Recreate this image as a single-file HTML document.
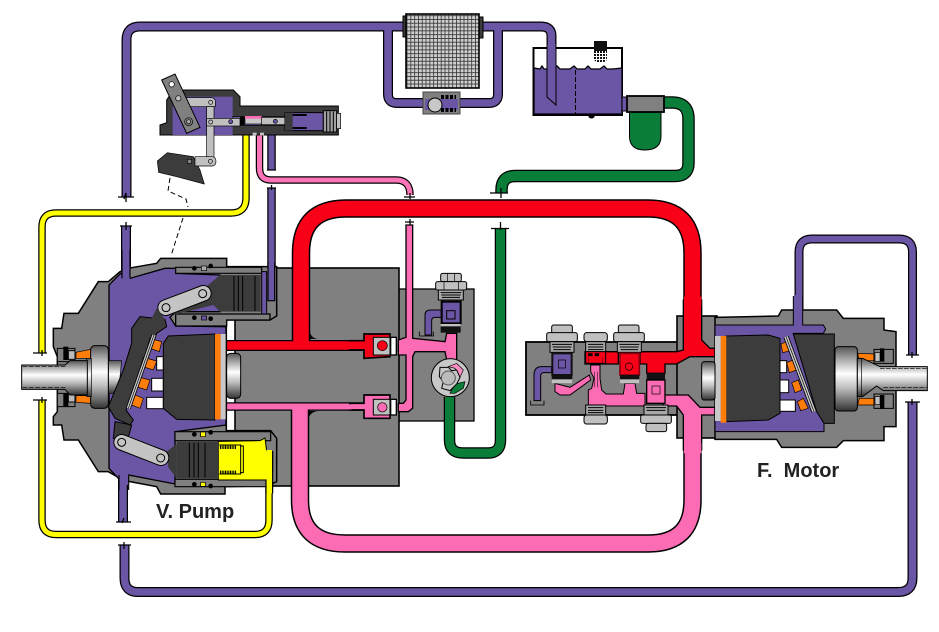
<!DOCTYPE html>
<html>
<head>
<meta charset="utf-8">
<style>
html,body{margin:0;padding:0;background:#fff;width:939px;height:632px;overflow:hidden}
svg{display:block}
text{font-family:"Liberation Sans",sans-serif;font-weight:bold;font-size:20px;fill:#222}
</style>
</head>
<body>
<svg width="939" height="632" viewBox="0 0 939 632" xmlns="http://www.w3.org/2000/svg">
<defs>
<linearGradient id="sh" x1="0" y1="0" x2="0" y2="1">
<stop offset="0" stop-color="#555"/><stop offset=".2" stop-color="#aaa"/><stop offset=".42" stop-color="#fff"/><stop offset=".65" stop-color="#bbb"/><stop offset="1" stop-color="#333"/>
</linearGradient>
<pattern id="mesh" width="3.800" height="3.800" patternUnits="userSpaceOnUse"><rect width="3.800" height="3.800" fill="#cfcfcf"/><path d="M0 .4H3.800M.4 0V3.800" stroke="#333" stroke-width=".8"/></pattern>
<pattern id="mesh2" width="3" height="3" patternUnits="userSpaceOnUse"><rect width="3" height="3" fill="#fff"/><rect width="2" height="2" fill="#111"/></pattern>
</defs>
<rect width="939" height="632" fill="#fff"/>

<!-- manifold plates & main block -->
<rect x="398" y="289" width="76" height="132" fill="#808080" stroke="#000" stroke-width="1.300"/>
<rect x="235" y="268" width="164" height="218" fill="#808080" stroke="#000" stroke-width="1.600"/>
<rect x="526" y="342" width="152" height="73" fill="#808080" stroke="#000" stroke-width="1.800"/>
<rect x="677" y="316" width="40" height="122" fill="#808080" stroke="#000" stroke-width="1.600"/>

<!-- pipes outline -->
<g fill="none" stroke="#000" stroke-linejoin="round">
<path stroke-width="10" d="M126.500 197V40Q126.500 26.500 140 26.500H410M388 26.500V94Q388 103 397 103H425M460 103H489Q498 103 498 94V26.500H410M480 26.500H541Q551.500 26.500 551.500 36V60"/>
<path stroke-width="10" d="M126 226V285"/>
<path stroke-width="10" d="M123 470V522"/>
<path stroke-width="10" d="M124.500 545V578Q124.500 592 138 592H898Q912.500 592 912.500 578V402"/>
<path stroke-width="9" d="M799 322V252Q799 239 812 239H899Q912.500 239 912.500 252V355"/>
<path stroke-width="8.500" d="M271.500 130V170M271.500 188V300"/>
<path stroke-width="7.500" d="M246 125V198Q246 213 231 213H56Q42 213 42 227V353"/>
<path stroke-width="7.500" d="M42 400V520Q42 534.500 56 534.500H255Q269 534.500 269 520V440"/>
<path stroke-width="7.500" d="M259.500 125V168Q259.500 180 271 180H396Q410 180 410 195"/>
<path stroke-width="12.500" d="M664 102.500H672Q688.500 102.500 688.500 119V163Q688.500 176 675 176H515Q501.500 176 501.500 190V193"/>
<path stroke-width="11.500" d="M500.500 228V440Q500.500 453 488 453H463Q449.500 453 449.500 440V397"/>
<path stroke-width="18.500" d="M301 340V253Q301 208.500 346 208.500H648Q692.500 208.500 692.500 253V310"/>
<path stroke-width="11" d="M226 345.500H365"/>
<path stroke-width="18.500" d="M300 410V500Q300 543.500 345 543.500H648Q692.500 543.500 692.500 500V445"/>
<path stroke-width="8.500" d="M226 406.500H365"/>
</g>
<!-- pipes fill -->
<g fill="none" stroke-linejoin="round">
<g stroke="#6b55a5">
<path stroke-width="7.500" d="M126.500 197V40Q126.500 26.500 140 26.500H410M388 26.500V94Q388 103 397 103H425M460 103H489Q498 103 498 94V26.500H410M480 26.500H541Q551.500 26.500 551.500 36V60"/>
<path stroke-width="7.500" d="M126 226V285"/>
<path stroke-width="7.500" d="M123 470V522"/>
<path stroke-width="7.500" d="M124.500 545V578Q124.500 592 138 592H898Q912.500 592 912.500 578V402"/>
<path stroke-width="6.500" d="M799 322V252Q799 239 812 239H899Q912.500 239 912.500 252V355"/>
<path stroke-width="6" d="M271.500 130V170M271.500 188V300"/>
</g>
<g stroke="#ffff00">
<path stroke-width="5" d="M246 125V198Q246 213 231 213H56Q42 213 42 227V353"/>
<path stroke-width="5" d="M42 400V520Q42 534.500 56 534.500H255Q269 534.500 269 520V440"/>
</g>
<path stroke="#fb74b8" stroke-width="5" d="M259.500 125V168Q259.500 180 271 180H396Q410 180 410 195"/>
<g stroke="#0a7d38">
<path stroke-width="10" d="M664 102.500H672Q688.500 102.500 688.500 119V163Q688.500 176 675 176H515Q501.500 176 501.500 190V193"/>
<path stroke-width="9" d="M500.500 228V440Q500.500 453 488 453H463Q449.500 453 449.500 440V397"/>
</g>
<g stroke="#f70018">
<path stroke-width="15.500" d="M301 345V253Q301 208.500 346 208.500H648Q692.500 208.500 692.500 253V310"/>
<path stroke-width="8.500" d="M226 345.500H365"/>
</g>
<g stroke="#fb6cb4">
<path stroke-width="15.500" d="M300 405V500Q300 543.500 345 543.500H648Q692.500 543.500 692.500 500V445"/>
<path stroke-width="6" d="M226 406.500H365"/>
</g>
</g>
<!-- fillets at pipe junctions -->
<path d="M309 328Q310 339 319 339H309ZM308 421Q309 412 318 411H308Z" fill="#000"/>

<!-- break marks -->
<g stroke="#000" stroke-width="1.300" fill="none">
<path d="M118 197H134M126 193L124 199M126 193V202"/>
<path d="M120 226H132M126 222V230"/>
<path d="M116 522H131M124 518L122 523"/>
<path d="M118 545H131M124 542V549"/>
<path d="M267 170H276M267 188H276M271.500 185V190"/>
<path d="M404 197H415M410 193V199M405 222H414M410 219V225"/>
<path d="M33 353H47M42 350V356M33 400H47M42 397V403"/>
<path d="M490 193H508M501 188V198"/>
<path d="M491 228.500H509M500.500 222V230"/>
<path d="M906 355H919M912 352V358M905 402H920M912 399V405"/>
</g>

<!-- dashed link -->
<path d="M170 178L168 191L186 199L188 207M183 218L176 240L171 256" fill="none" stroke="#000" stroke-width="1" stroke-dasharray="5 3"/>

<!-- PUMP (zoom coordinates) -->
<g transform="translate(0,230) scale(.33333)">
<path d="M160 295H185L192 250H235L295 155H325L360 125L395 113L470 100L482 85H680V110H830V258L810 270H679V602H812L830 625V755L800 768L675 770V792H482L470 770L390 755L360 745L325 725H295L235 630H192L185 585H160V560L172 545V380L160 350Z" fill="#808080" stroke="#000" stroke-width="4.500"/>
<path d="M327 165L362 130L390 145L495 115L527 115V130L660 135V245L527 245L510 262L527 288L678 290V585L525 605V762L385 735L355 745L327 715Z" fill="#6b55a5" stroke="#000" stroke-width="4"/>
<!-- top servo -->
<path d="M527 252H810V270H680V288H527Z" fill="#808080" stroke="#000" stroke-width="4"/>
<path d="M527 112H785V130H527Z" fill="#808080" stroke="#000" stroke-width="3.500"/>
<circle cx="583" cy="115" r="7" fill="#000"/><rect x="604" y="108" width="16" height="14" fill="#aaa" stroke="#000" stroke-width="2"/><circle cx="632" cy="108" r="7" fill="#000"/>
<circle cx="583" cy="263" r="7" fill="#000"/><rect x="604" y="258" width="16" height="12" fill="#6b55a5" stroke="#000" stroke-width="2"/><circle cx="632" cy="266" r="7" fill="#000"/>
<path d="M660 135H782V245H660Z" fill="#3c3c3c"/>
<path d="M660 135L625 165L520 255L640 225L660 245Z" fill="#3c3c3c"/>
<path d="M702 138V243M715 138V243M728 138V243M765 138V243" stroke="#000" stroke-width="3"/>
<path d="M785 125H800V252H785Z" fill="#6b55a5" stroke="#000" stroke-width="3"/>
<path d="M497 233L610 190" stroke="#000" stroke-width="50" stroke-linecap="round"/>
<path d="M497 233L610 190" stroke="#c4c4c4" stroke-width="44" stroke-linecap="round"/>
<circle cx="498" cy="233" r="12" fill="#c4c4c4" stroke="#000" stroke-width="3"/><circle cx="608" cy="191" r="12" fill="#c4c4c4" stroke="#000" stroke-width="3"/>
<!-- bottom servo -->
<path d="M525 605H812V632H525Z" fill="#808080" stroke="#000" stroke-width="3.500"/>
<path d="M525 748H800V770H525Z" fill="#808080" stroke="#000" stroke-width="3.500"/>
<circle cx="583" cy="613" r="7" fill="#000"/><rect x="602" y="606" width="14" height="14" fill="#ffff00" stroke="#000" stroke-width="2"/><circle cx="632" cy="607" r="7" fill="#000"/>
<circle cx="583" cy="763" r="7" fill="#000"/><rect x="602" y="757" width="14" height="12" fill="#ffff00" stroke="#000" stroke-width="2"/><circle cx="632" cy="768" r="7" fill="#000"/>
<path d="M655 634L780 632L795 624L800 664H818V720L800 750H655Z" fill="#ffff00" stroke="#000" stroke-width="3"/>
<path d="M658 645H722V732H658M720 648H730V728H720" fill="none" stroke="#000" stroke-width="3"/>
<path d="M660 652h8m2 0h8m2 0h8m2 0h8m2 0h8M660 727h8m2 0h8m2 0h8m2 0h8m2 0h8" stroke="#000" stroke-width="10" stroke-dasharray="3 2" fill="none"/>
<path d="M530 635H655V745H530Z" fill="#3c3c3c"/>
<path d="M530 642L500 665L505 712L530 745Z" fill="#3c3c3c"/>
<path d="M568 638V743M582 638V743M595 638V743M615 638V743" stroke="#000" stroke-width="3"/>
<path d="M345 575L395 585L380 640L340 625Z" fill="#3c3c3c" stroke="#000" stroke-width="3"/>
<path d="M365 637L483 683" stroke="#000" stroke-width="50" stroke-linecap="round"/>
<path d="M365 637L483 683" stroke="#c4c4c4" stroke-width="44" stroke-linecap="round"/>
<circle cx="365" cy="637" r="12" fill="#c4c4c4" stroke="#000" stroke-width="3"/><circle cx="482" cy="684" r="12" fill="#c4c4c4" stroke="#000" stroke-width="3"/>
<!-- shaft -->
<path d="M172 355H225V395H172ZM172 490H225V530H172Z" fill="#808080" stroke="#000" stroke-width="3"/>
<rect x="190" y="350" width="15" height="40" fill="#000"/><rect x="190" y="490" width="15" height="40" fill="#000"/>
<rect x="205" y="362" width="20" height="26" fill="#bbb" stroke="#000" stroke-width="3"/><rect x="205" y="492" width="20" height="24" fill="#bbb" stroke="#000" stroke-width="3"/>
<path d="M228 367L272 358V385L228 385ZM228 497H272V520L228 517Z" fill="#ff7d0a" stroke="#000" stroke-width="2"/>
<path d="M325 392H365L355 490H325Z" fill="url(#sh)" stroke="#000" stroke-width="2"/>
<rect x="272" y="347" width="53" height="188" rx="12" fill="url(#sh)" stroke="#000" stroke-width="3"/>
<rect x="260" y="385" width="14" height="115" fill="url(#sh)" stroke="#000" stroke-width="2"/>
<path d="M65 405H195L210 392H262V495H210L195 478H65Z" fill="url(#sh)" stroke="#000" stroke-width="3"/>
<path d="M68 410H200M68 472H200" stroke="#000" stroke-width="2" stroke-dasharray="14 5"/>
<!-- swash -->
<path d="M395 295L420 260L495 268L500 290L470 310L378 540L400 570L390 585L345 565L325 530L370 420L395 340Z" fill="#3c3c3c" stroke="#000" stroke-width="3"/>
<path d="M470 235L495 268L470 300L455 265Z" fill="#3c3c3c"/>
<!-- pistons -->
<rect x="470" y="380" width="20" height="40" fill="#fff" stroke="#000" stroke-width="3"/>
<rect x="455" y="445" width="35" height="38" fill="#fff" stroke="#000" stroke-width="3"/>
<rect x="440" y="502" width="50" height="34" fill="#fff" stroke="#000" stroke-width="3"/>
<path d="M450 325L485 335L478 365L442 352ZM430 382L470 393L460 420L422 408ZM412 440L450 450L440 480L402 468ZM398 492L430 505L420 535L388 522Z" fill="#ff7d0a" stroke="#000" stroke-width="2"/>
<path d="M462 315L385 535" stroke="#000" stroke-width="15"/>
<path d="M462 315L385 535" stroke="#c8c8c8" stroke-width="10"/>
<path d="M462 315L385 535" stroke="#000" stroke-width="2"/>
<!-- cylinder -->
<path d="M505 318L645 312V570L530 568L490 535V340Z" fill="#3c3c3c" stroke="#000" stroke-width="3"/>
<rect x="645" y="312" width="17" height="256" fill="#ff7d0a"/>
<rect x="662" y="312" width="15" height="256" fill="#c8c8c8"/>
<rect x="680" y="370" width="42" height="135" rx="12" fill="url(#sh)" stroke="#000" stroke-width="3"/>
<!-- pipes merging into housing -->
<rect x="367" y="90" width="22" height="60" fill="#6b55a5"/>
<path d="M366 60V145M390 60V143" stroke="#000" stroke-width="3.500"/>
<rect x="358" y="725" width="26" height="40" fill="#6b55a5"/>
<path d="M357 735V780M386 738V780" stroke="#000" stroke-width="3.500"/>
<path d="M804 100V212H824V100Z" fill="#6b55a5" stroke="#000" stroke-width="3.500"/>
<rect x="806" y="90" width="16" height="20" fill="#6b55a5"/>
<rect x="799" y="660" width="17" height="130" fill="#ffff00"/>
<path d="M798 748V790M818 664V790" stroke="#000" stroke-width="3.500"/>
</g>

<!-- CONTROL -->
<g transform="translate(110,0) scale(.33333)">
<path d="M150 405V375L170 368V300L190 270H370L390 290V318H685V405Z" fill="#3c3c3c" stroke="#000" stroke-width="3"/>
<rect x="188" y="290" width="180" height="115" fill="#6b55a5"/>
<rect x="368" y="350" width="155" height="26" fill="#6b55a5" stroke="#000" stroke-width="2"/>
<rect x="405" y="350" width="52" height="22" fill="#c8c8c8" stroke="#000" stroke-width="2"/>
<rect x="405" y="348" width="50" height="8" fill="#fb6cb4"/>
<rect x="390" y="350" width="14" height="26" fill="#000"/>
<rect x="455" y="352" width="70" height="22" fill="#c0c0c0" stroke="#000" stroke-width="2"/>
<circle cx="496" cy="364" r="6" fill="#6b55a5" stroke="#000" stroke-width="2"/>
<path d="M428 398h12v8h-12zM450 398h12v8h-12z" fill="#c0c0c0"/>
<path d="M525 338H640V392H525Z" fill="#6b55a5" stroke="#000" stroke-width="3"/>
<path d="M525 338H548V392H525Z" fill="#3c3c3c"/>
<path d="M548 345H590M548 384H590" stroke="#000" stroke-width="6"/>
<rect x="640" y="332" width="40" height="64" fill="#a0a0a0" stroke="#000" stroke-width="3"/>
<path d="M650 334V394M660 334V394M670 334V394" stroke="#000" stroke-width="3"/>
<rect x="680" y="340" width="12" height="46" fill="#c0c0c0" stroke="#000" stroke-width="2"/>
<path d="M230 293H303Q316 293 316 306V320H230Z" fill="#c0c0c0" stroke="#000" stroke-width="2"/>
<rect x="290" y="320" width="22" height="160" fill="#c0c0c0" stroke="#000" stroke-width="2"/>
<rect x="290" y="355" width="100" height="23" fill="#c0c0c0" stroke="#000" stroke-width="2"/>
<circle cx="302" cy="307" r="6" fill="#c0c0c0" stroke="#000" stroke-width="2"/>
<circle cx="302" cy="366" r="6" fill="#c0c0c0" stroke="#000" stroke-width="2"/>
<circle cx="362" cy="365" r="6" fill="#6b55a5" stroke="#000" stroke-width="2"/>
<path d="M155 240L195 222L270 382L230 400Z" fill="#808080" stroke="#000" stroke-width="3"/>
<circle cx="185" cy="253" r="8" fill="#fff" stroke="#000" stroke-width="2"/>
<circle cx="205" cy="295" r="8" fill="#c0c0c0" stroke="#000" stroke-width="2"/>
<circle cx="236" cy="365" r="12" fill="#808080" stroke="#000" stroke-width="2"/><circle cx="236" cy="365" r="6" fill="#aaa" stroke="#000" stroke-width="2"/>
<path d="M142 483L172 458L250 470L270 510L283 552L200 530L146 517Z" fill="#3c3c3c" stroke="#000" stroke-width="2"/>
<path d="M255 470H305Q318 470 318 484Q318 498 305 498H255Z" fill="#c0c0c0" stroke="#000" stroke-width="2"/>
<circle cx="301" cy="484" r="6" fill="#c0c0c0" stroke="#000" stroke-width="2"/>
<rect x="232" y="478" width="13" height="13" fill="#808080" stroke="#000" stroke-width="2"/>
</g>

<!-- FILTER, VALVE, TANK -->
<rect x="403" y="16" width="4" height="21" fill="#3c3c3c" stroke="#000"/>
<rect x="478" y="17" width="5" height="21" fill="#3c3c3c" stroke="#000"/>
<rect x="406" y="14" width="73" height="74" fill="url(#mesh)" stroke="#000" stroke-width="1.600"/>
<rect x="423" y="92" width="37" height="22" fill="#808080" stroke="#444"/>
<rect x="425" y="99" width="33" height="11" fill="#6b55a5"/>
<path d="M441 97h15M441 110h15" stroke="#000" stroke-width="4" stroke-dasharray="3 1.500"/>
<circle cx="435" cy="105" r="7" fill="#c8c8c8" stroke="#000"/>
<rect x="533.500" y="48" width="88.500" height="67" fill="#fff" stroke="#000" stroke-width="2"/>
<path d="M534 68L540 69L542 66L544 69L552 69L557 66L560 69L570 69L574 66L577 69L585 69L588 66L591 69L600 69L604 66L607 69L613 69L622 68V114H534Z" fill="#6b55a5" stroke="#000" stroke-width="1.300"/>
<path d="M575.500 70V114" stroke="#000" stroke-dasharray="5 2" stroke-width="1"/>
<path d="M547 46V97L556 105V46" fill="#6b55a5" stroke="#000" stroke-width="1"/>
<rect x="547.500" y="44" width="8" height="6" fill="#6b55a5"/>
<rect x="594" y="41" width="13" height="10" fill="#111"/>
<path d="M594 51H607V58Q607 62 603 62H598Q594 62 594 58Z" fill="url(#mesh2)"/>
<ellipse cx="591.500" cy="116.500" rx="3" ry="2" fill="#000"/>
<rect x="622" y="97" width="6" height="14" fill="#6b55a5" stroke="#000"/>
<path d="M629.500 112V136Q629.500 150 645 150Q661 150 661 136V112Z" fill="#0a7d38" stroke="#000" stroke-width="1"/>
<rect x="627" y="96" width="37" height="16" fill="#808080" stroke="#000" stroke-width="1.800"/>

<!-- PUMP MANIFOLD -->
<g transform="translate(300,260) scale(.33333)">
<path d="M318 -105H338V235L435 245L440 220H470V300H440L435 275H345L338 290V445L325 455H295V430H310L318 420V285H295V240L318 232Z" fill="#fb6cb4" stroke="#000" stroke-width="4"/>
<path d="M150 242H192V222H270V290L192 295V270H150Z" fill="#f70018" stroke="#000" stroke-width="5"/>
<rect x="142" y="245" width="14" height="22" fill="#f70018"/>
<rect x="220" y="232" width="50" height="53" fill="#c0c0c0" stroke="#000" stroke-width="3"/>
<circle cx="247" cy="257" r="15" fill="#f70018" stroke="#000" stroke-width="2"/>
<rect x="272" y="232" width="17" height="53" fill="#fff" stroke="#000" stroke-width="4"/>
<path d="M150 430H192V405H270V475H192V450H150Z" fill="#fb6cb4" stroke="#000" stroke-width="5"/>
<rect x="142" y="433" width="14" height="15" fill="#fb6cb4"/>
<rect x="220" y="418" width="50" height="47" fill="#c0c0c0" stroke="#000" stroke-width="3"/>
<circle cx="247" cy="442" r="14" fill="#fb6cb4" stroke="#000" stroke-width="2"/>
<rect x="272" y="418" width="17" height="47" fill="#fff" stroke="#000" stroke-width="4"/>
<rect x="422" y="40" width="62" height="25" rx="6" fill="#c0c0c0" stroke="#000" stroke-width="3"/>
<path d="M442 40V65M464 40V65" stroke="#000" stroke-width="2"/>
<rect x="407" y="65" width="93" height="25" rx="6" fill="#c0c0c0" stroke="#000" stroke-width="3"/>
<path d="M432 65V90M476 65V90" stroke="#000" stroke-width="2"/>
<rect x="415" y="90" width="75" height="30" fill="#a8a8a8" stroke="#000" stroke-width="3"/>
<path d="M422 98H484M424 105H482M426 112H480" stroke="#000" stroke-width="3"/>
<path d="M375 225V165Q375 150 392 150H430V172H405Q395 172 395 182V225Z" fill="#6b55a5" stroke="#000" stroke-width="3"/>
<path d="M358 215V228H400V215" fill="none" stroke="#000" stroke-width="2.500"/>
<rect x="425" y="125" width="57" height="65" fill="#6b55a5" stroke="#000" stroke-width="6"/>
<rect x="440" y="152" width="25" height="25" fill="#6b55a5" stroke="#000" stroke-width="3"/>
<rect x="422" y="192" width="60" height="26" fill="#111"/>
<rect x="422" y="192" width="60" height="7" fill="#c0c0c0"/>
<circle cx="451" cy="353" r="57" fill="#c8c8c8" stroke="#000" stroke-width="3"/>
<path d="M445 320L470 310L490 330L480 352L465 325Z" fill="#fb8cc4" stroke="#000" stroke-width="2"/>
<path d="M450 400L465 372L495 365L490 385L465 400Z" fill="#0a7d38" stroke="#000" stroke-width="2"/>
<path d="M420 322L445 322L455 332L470 330L480 352L470 372L450 392L425 385L430 365L418 350Z" fill="#c8c8c8" stroke="#000" stroke-width="3"/>
<circle cx="445" cy="354" r="21" fill="#bbb" stroke="#555" stroke-width="3"/>
</g>

<!-- MOTOR MANIFOLD -->
<g transform="translate(520,300) scale(.33333)">
<path d="M195 155H470L490 150V0H545V120L570 145H585V170H510L470 192H435V220H380V192H360V160H295V192H195Z" fill="#f70018" stroke="#000" stroke-width="4"/>
<rect x="492" y="-10" width="52" height="30" fill="#f70018"/>
<path d="M105 250L150 262L208 225L212 240L150 285H120L105 275Z" fill="#fb6cb4" stroke="#000" stroke-width="3"/>
<path d="M212 195H240V235L245 270L258 282H310L315 250H345L350 280H375V318H205V270L215 265L222 235L212 215Z" fill="#fb6cb4" stroke="#000" stroke-width="3"/>
<path d="M430 285H505L540 322H585V345H545V450H490V345L470 318H430Z" fill="#fb6cb4" stroke="#000" stroke-width="4"/>
<rect x="492" y="430" width="52" height="30" fill="#fb6cb4"/>
<g fill="#c0c0c0" stroke="#000" stroke-width="3">
<rect x="95" y="75" width="62" height="25" rx="6"/><rect x="80" y="98" width="92" height="27" rx="6"/>
<rect x="192" y="98" width="70" height="27" rx="8"/>
<rect x="295" y="75" width="62" height="25" rx="6"/><rect x="281" y="98" width="92" height="27" rx="6"/>
<rect x="192" y="345" width="70" height="27" rx="8"/>
<rect x="362" y="345" width="92" height="25" rx="6"/><rect x="378" y="370" width="62" height="25" rx="6"/>
</g>
<g fill="#a8a8a8" stroke="#000" stroke-width="3">
<rect x="90" y="125" width="72" height="32"/><rect x="197" y="125" width="60" height="30"/><rect x="292" y="125" width="72" height="32"/>
<rect x="197" y="315" width="60" height="30"/><rect x="372" y="315" width="72" height="30"/>
</g>
<path d="M96 133H156M98 141H154M100 149H152M204 133H250M204 141H250M204 149H250M298 133H358M300 141H356M302 149H354M204 323H250M204 331H250M204 338H250M378 323H438M380 331H436" stroke="#000" stroke-width="3"/>
<rect x="97" y="160" width="58" height="65" fill="#6b55a5" stroke="#111" stroke-width="6"/>
<rect x="115" y="180" width="22" height="24" fill="#6b55a5" stroke="#000" stroke-width="2"/>
<rect x="95" y="225" width="62" height="25" fill="#111"/><rect x="95" y="238" width="62" height="12" fill="#c0c0c0"/>
<path d="M42 302V225Q42 200 65 200H95V218H72Q62 218 62 228V302Z" fill="#6b55a5" stroke="#000" stroke-width="3"/>
<path d="M32 302V315H72V302" fill="none" stroke="#000" stroke-width="2.500"/>
<rect x="197" y="155" width="60" height="35" fill="#f70018" stroke="#000" stroke-width="3"/>
<path d="M205 160h12v8h-12zM225 160h12v8h-12zM205 172V188M248 172V188" fill="#000" stroke="#000" stroke-width="1"/>
<rect x="300" y="160" width="58" height="65" fill="#f70018" stroke="#8a0010" stroke-width="5"/>
<circle cx="327" cy="200" r="11" fill="#f70018" stroke="#000" stroke-width="2"/>
<rect x="300" y="225" width="58" height="25" fill="#111"/><rect x="300" y="238" width="58" height="12" fill="#c0c0c0"/>
<rect x="380" y="218" width="55" height="22" fill="#111"/>
<rect x="380" y="240" width="55" height="70" fill="#fb6cb4" stroke="#000" stroke-width="4"/>
<rect x="396" y="258" width="24" height="24" fill="#fb6cb4" stroke="#000" stroke-width="2"/>
<path d="M224 215V262M232 215V262" stroke="#000" stroke-width="1.500"/>
</g>

<!-- MOTOR -->
<g transform="translate(680,230) scale(.33333)">
<path d="M105 262L295 258L305 240H470L490 265H612V300L648 305V590H612V632H490L470 652H305L290 628H105Z" fill="#808080" stroke="#000" stroke-width="4.500"/>
<path d="M105 285H340V200H368V285H430L437 297L430 310H340L410 545L432 555V605H105Z" fill="#6b55a5" stroke="#000" stroke-width="3"/>
<rect x="342" y="195" width="24" height="92" fill="#6b55a5"/>
<path d="M340 312H463V580H432L410 545Z" fill="#3c3c3c" stroke="#000" stroke-width="3"/>
<rect x="298" y="392" width="22" height="36" fill="#fff" stroke="#000" stroke-width="3"/>
<rect x="298" y="450" width="28" height="38" fill="#fff" stroke="#000" stroke-width="3"/>
<rect x="298" y="510" width="48" height="34" fill="#fff" stroke="#000" stroke-width="3"/>
<path d="M303 342L320 335L330 362L308 368ZM320 398L340 390L350 420L328 428ZM335 458L355 450L365 480L345 488ZM352 515L370 505L385 535L362 542Z" fill="#ff7d0a" stroke="#000" stroke-width="2"/>
<path d="M318 320L402 545" stroke="#000" stroke-width="16"/>
<path d="M318 320L402 545" stroke="#c8c8c8" stroke-width="11"/>
<path d="M318 320L402 545" stroke="#000" stroke-width="2"/>
<path d="M138 318L265 315L300 325V550L265 570L138 575Z" fill="#3c3c3c" stroke="#000" stroke-width="3"/>
<rect x="122" y="318" width="17" height="260" fill="#ff7d0a"/>
<rect x="105" y="318" width="17" height="255" fill="#c8c8c8"/>
<rect x="65" y="395" width="40" height="115" rx="8" fill="url(#sh)" stroke="#000" stroke-width="3"/>
<path d="M533 370L582 372V392H538ZM538 505H582V525L533 525Z" fill="#ff7d0a" stroke="#000" stroke-width="2"/>
<path d="M582 358H640V400H582ZM582 492H640V535H582Z" fill="#808080" stroke="#000" stroke-width="3"/>
<rect x="600" y="355" width="13" height="40" fill="#000"/><rect x="600" y="495" width="13" height="42" fill="#000"/>
<rect x="585" y="368" width="15" height="26" fill="#c0c0c0" stroke="#000" stroke-width="2"/><rect x="585" y="500" width="15" height="24" fill="#c0c0c0" stroke="#000" stroke-width="2"/>
<rect x="465" y="350" width="67" height="193" rx="10" fill="url(#sh)" stroke="#000" stroke-width="3"/>
<path d="M532 385H548L600 410H742V482H610L590 468L548 500H532Z" fill="url(#sh)" stroke="#000" stroke-width="3"/>
<path d="M600 415H740M610 472H740" stroke="#000" stroke-width="2" stroke-dasharray="14 4"/>
<path d="M545 386V498" stroke="#000" stroke-width="2"/>
</g>

<text x="156" y="518">V. Pump</text>
<text x="757" y="477" xml:space="preserve">F.  Motor</text>
</svg>
</body>
</html>
